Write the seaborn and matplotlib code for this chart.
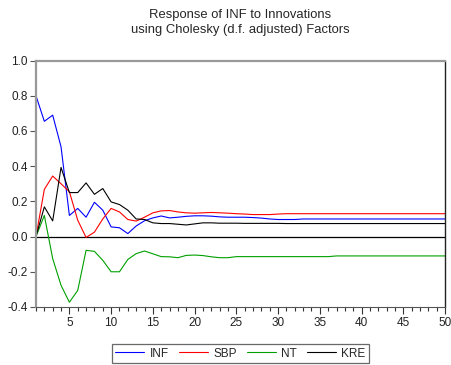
import numpy as np
import pandas as pd
import seaborn as sns
import matplotlib.pyplot as plt
from matplotlib.ticker import MultipleLocator

# =============================
# Data
# =============================
periods = list(range(1, 51))

inf = [0.80, 0.655, 0.69, 0.51, 0.12, 0.16, 0.11, 0.195, 0.15, 0.055,
       0.05, 0.017, 0.06, 0.09, 0.106, 0.117, 0.106, 0.11, 0.115, 0.118,
       0.118, 0.116, 0.112, 0.11, 0.11, 0.11, 0.108, 0.105, 0.10, 0.097,
       0.097, 0.097, 0.10, 0.10, 0.10, 0.10, 0.10, 0.10, 0.10, 0.10,
       0.10, 0.10, 0.10, 0.10, 0.10, 0.10, 0.10, 0.10, 0.10, 0.10]

sbp = [0.0, 0.268, 0.344, 0.30, 0.255, 0.093, -0.005, 0.025, 0.10, 0.16,
       0.14, 0.097, 0.088, 0.11, 0.135, 0.146, 0.148, 0.14, 0.135, 0.133,
       0.135, 0.137, 0.135, 0.133, 0.13, 0.128, 0.125, 0.125, 0.125, 0.128,
       0.13, 0.13, 0.13, 0.13, 0.13, 0.13, 0.13, 0.13, 0.13, 0.13,
       0.13, 0.13, 0.13, 0.13, 0.13, 0.13, 0.13, 0.13, 0.13, 0.13]

nt = [0.0, 0.12, -0.125, -0.277, -0.373, -0.306, -0.078, -0.084, -0.135, -0.20,
      -0.20, -0.13, -0.097, -0.082, -0.098, -0.114, -0.115, -0.12, -0.107, -0.105,
      -0.108, -0.115, -0.12, -0.12, -0.114, -0.114, -0.114, -0.114, -0.114, -0.114,
      -0.114, -0.114, -0.114, -0.114, -0.114, -0.114, -0.11, -0.11, -0.11, -0.11,
      -0.11, -0.11, -0.11, -0.11, -0.11, -0.11, -0.11, -0.11, -0.11, -0.11]

kre = [0.0, 0.169, 0.089, 0.393, 0.25, 0.25, 0.305, 0.24, 0.273, 0.197,
       0.182, 0.15, 0.10, 0.097, 0.078, 0.074, 0.074, 0.07, 0.066, 0.072,
       0.078, 0.078, 0.076, 0.076, 0.076, 0.075, 0.075, 0.075, 0.075, 0.075,
       0.074, 0.074, 0.074, 0.074, 0.074, 0.074, 0.074, 0.074, 0.074, 0.074,
       0.074, 0.074, 0.074, 0.074, 0.074, 0.074, 0.074, 0.074, 0.074, 0.074]

series_names = ["INF", "SBP", "NT", "KRE"]
series_colors = ["#0000ff", "#ff0000", "#00a000", "#000000"]

df = pd.DataFrame({"period": periods, "INF": inf, "SBP": sbp, "NT": nt, "KRE": kre})
long_df = df.melt(id_vars="period", var_name="series", value_name="response")

# =============================
# Plot
# =============================
sns.set_style("white")
plt.rcParams["font.family"] = ["Liberation Sans", "DejaVu Sans"]

fig = plt.figure(figsize=(4.51, 3.65), dpi=100)
ax = fig.add_axes([0.0798, 0.159, 0.907, 0.675])

sns.lineplot(data=long_df, x="period", y="response", hue="series",
             hue_order=series_names, palette=series_colors,
             linewidth=0.8, ax=ax, legend=False)

ax.axhline(0, color="black", linewidth=0.9, zorder=1)

ax.set_xlim(1, 50)
ax.set_ylim(-0.4, 1.0)
ax.set_xlabel("")
ax.set_ylabel("")

ax.xaxis.set_major_locator(MultipleLocator(5))
ax.xaxis.set_minor_locator(MultipleLocator(1))
ax.yaxis.set_major_locator(MultipleLocator(0.2))
ax.yaxis.set_major_formatter(plt.FuncFormatter(lambda v, p: f"{v:.1f}"))

ax.tick_params(axis="x", which="major", length=5, width=0.8, color="#333333",
               labelsize=8.5, labelcolor="#222222", pad=2, bottom=True, direction="out")
ax.tick_params(axis="x", which="minor", length=3, width=0.8, color="#333333",
               bottom=True, direction="out")
ax.tick_params(axis="y", length=4, width=0.8, color="#555555",
               labelsize=8.5, labelcolor="#222222", pad=2, left=True, direction="out")

ax.spines["left"].set_color("#999999")
ax.spines["left"].set_linewidth(1.6)
ax.spines["top"].set_color("#999999")
ax.spines["top"].set_linewidth(1.6)
ax.spines["right"].set_color("#222222")
ax.spines["right"].set_linewidth(1.0)
ax.spines["bottom"].set_color("#555555")
ax.spines["bottom"].set_linewidth(0.8)

fig.text(0.532, 0.975, "Response of INF to Innovations\nusing Cholesky (d.f. adjusted) Factors",
         ha="center", va="top", fontsize=9.4, linespacing=1.3)

handles = [plt.Line2D([], [], color=c, linewidth=0.8) for c in series_colors]
leg = fig.legend(handles, series_names, loc="center",
                 bbox_to_anchor=(0.5335, 0.0315), ncol=4, fontsize=8.5,
                 frameon=True, fancybox=False, handlelength=2.45,
                 columnspacing=0.8, handletextpad=0.5, borderpad=0.3,
                 borderaxespad=0.0)
leg.get_frame().set_edgecolor("#444444")
leg.get_frame().set_linewidth(0.9)

fig.savefig("out.png", dpi=100)
